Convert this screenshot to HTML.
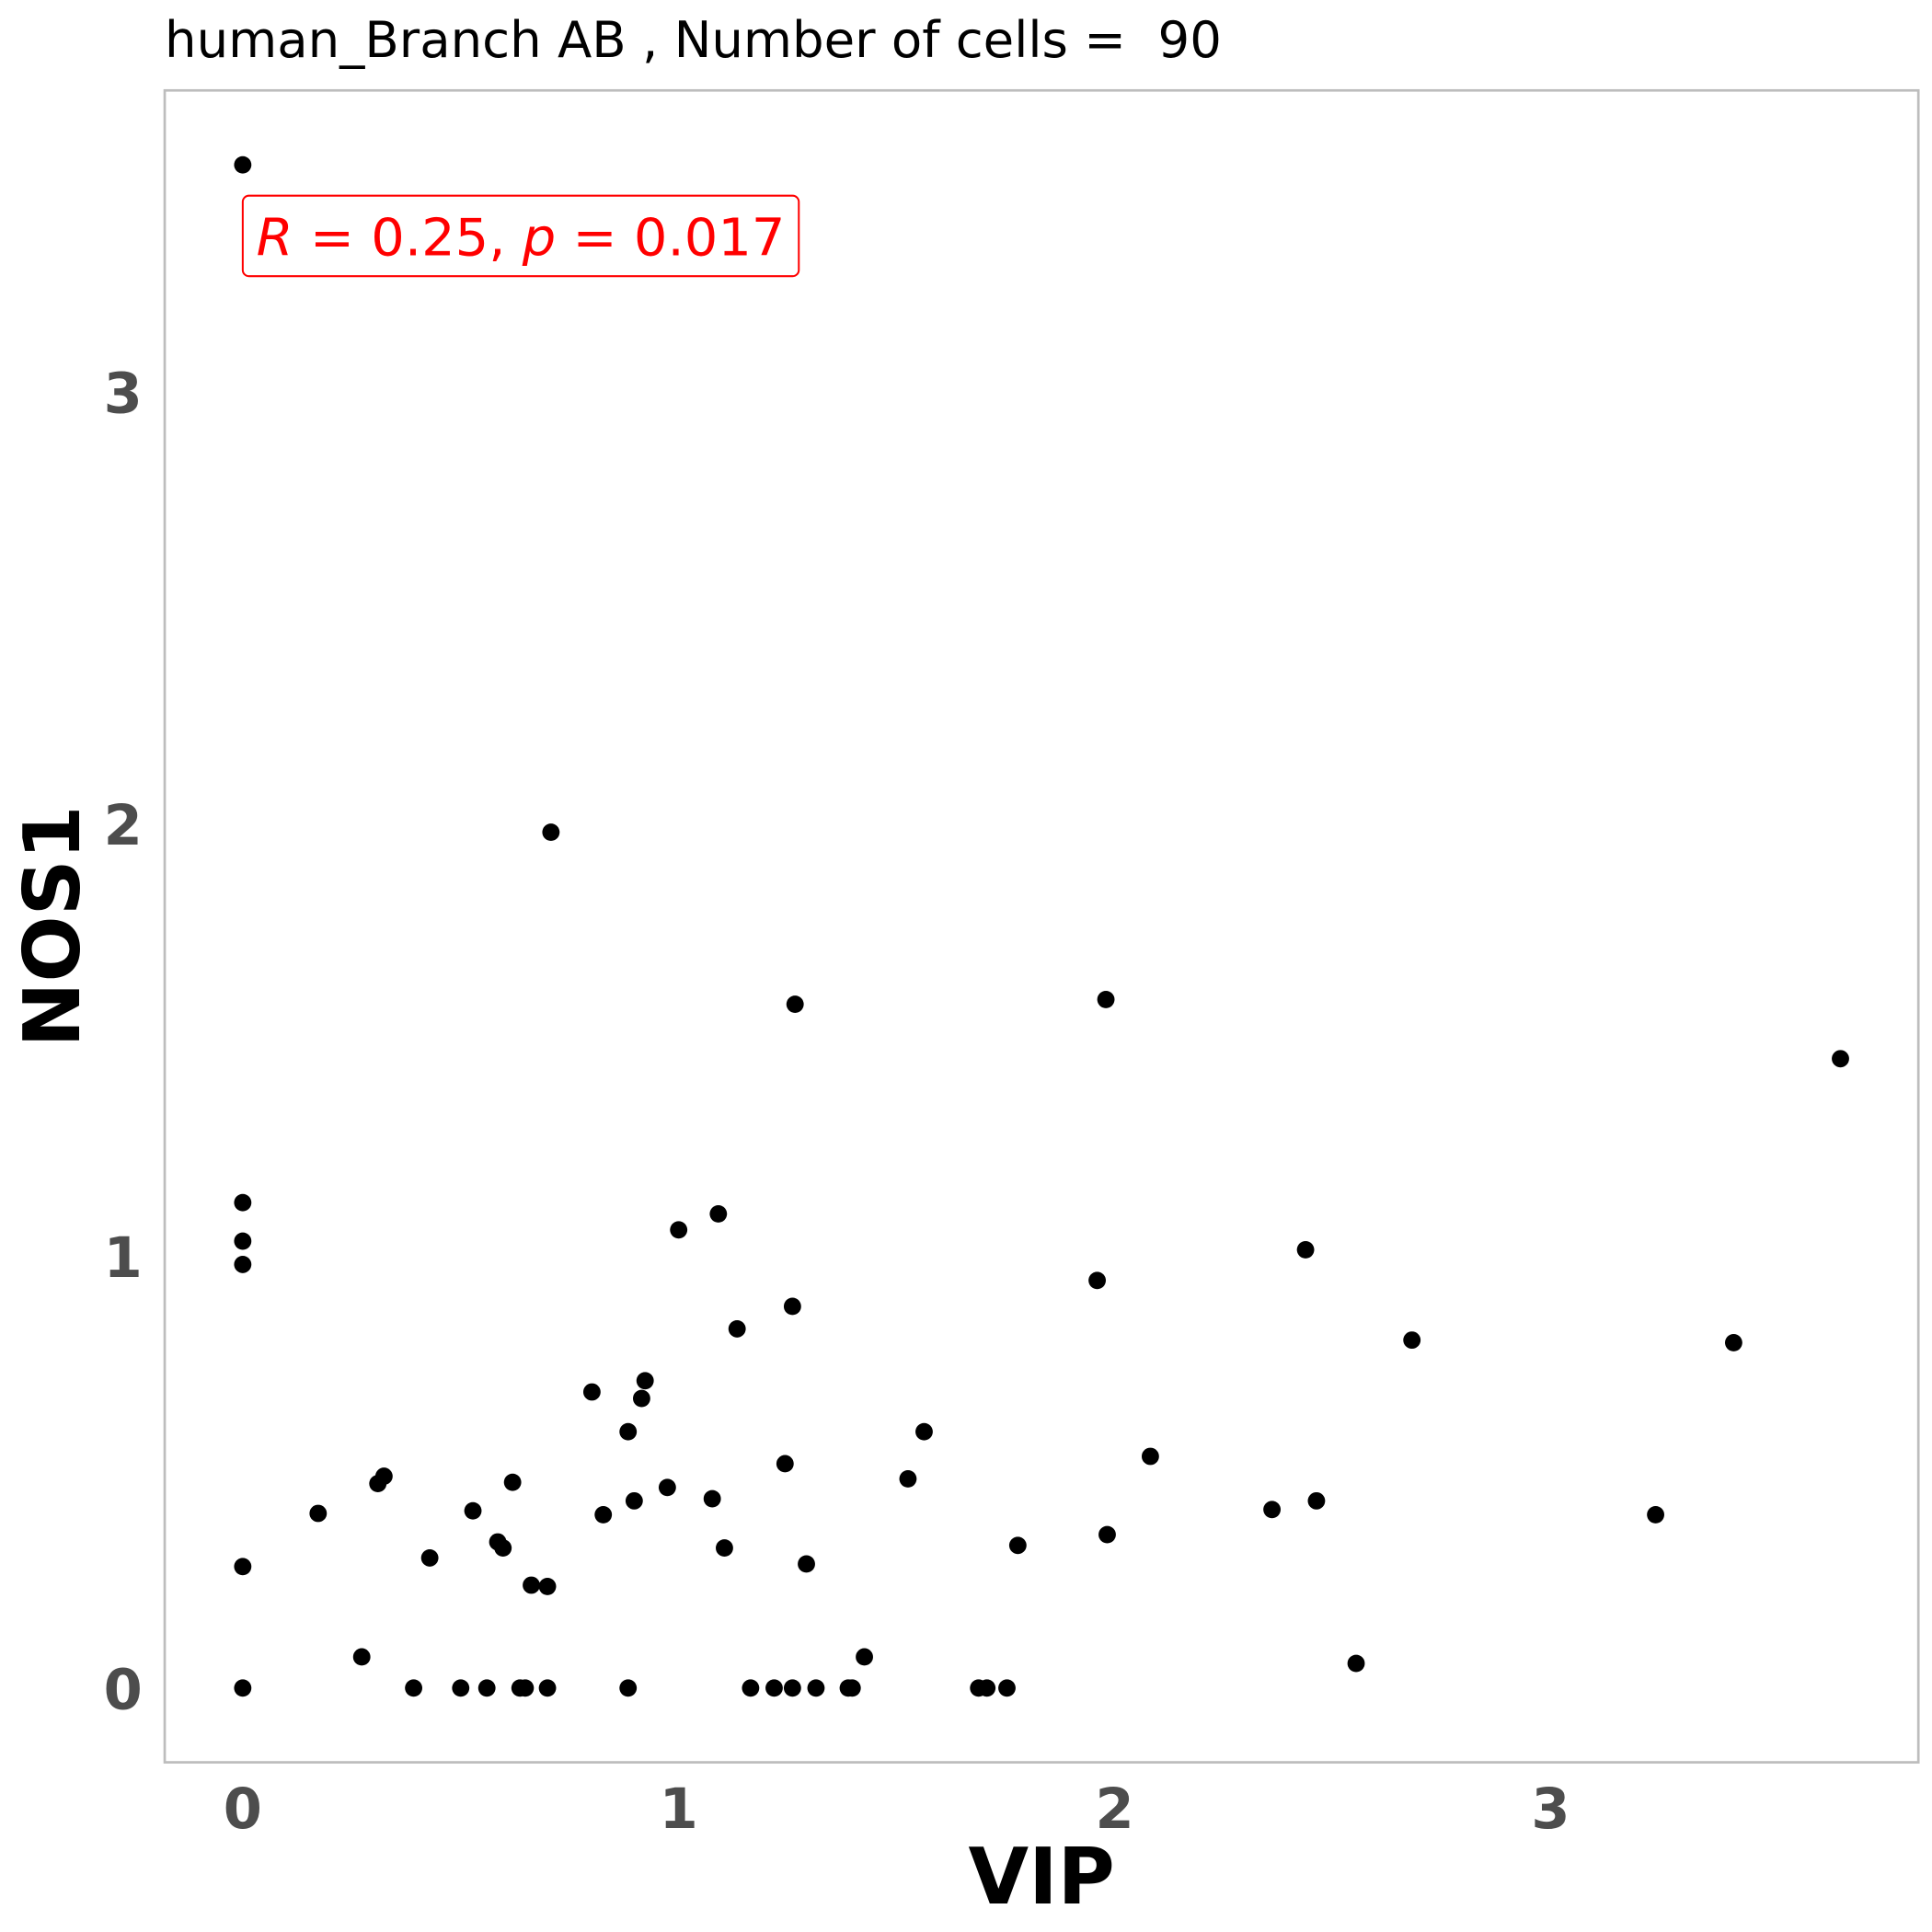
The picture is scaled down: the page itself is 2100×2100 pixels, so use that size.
<!DOCTYPE html>
<html><head><meta charset="utf-8"><style>
html,body{margin:0;padding:0;background:#fff;}
svg{display:block;font-family:"DejaVu Sans","Liberation Sans",sans-serif;}
</style></head><body>
<svg id="chart" width="2100" height="2100" viewBox="0 0 1560 1560" xmlns="http://www.w3.org/2000/svg">
<rect x="0" y="0" width="1560" height="1560" fill="#fff"/>
<text x="133" y="46" font-size="40.5" fill="#000" style="white-space:pre">human_Branch AB , Number of cells =  90</text>
<rect x="133" y="73" width="1416" height="1350" fill="none" stroke="#bdbdbd" stroke-width="2"/>
<g id="xticks"></g><g id="yticks"></g><g id="points"></g>
<g>
<rect x="196" y="158" width="449" height="65" rx="5" fill="#fff" stroke="#ff0000" stroke-width="1.5"/>
<text x="207" y="206" font-size="42" fill="#ff0000" textLength="427" lengthAdjust="spacingAndGlyphs"><tspan font-style="italic">R</tspan> = 0.25, <tspan font-style="italic">p</tspan> = 0.017</text>
</g>
<text x="841" y="1537" font-size="63" font-weight="bold" text-anchor="middle" fill="#000">VIP</text>
<text transform="translate(64,748) rotate(-90)" font-size="63" font-weight="bold" text-anchor="middle" fill="#000">NOS1</text>
</svg>
<script>
const xTicks=[0,1,2,3];
const yTicks=[0,1,2,3];
const vipValues=[0,0,0,0,0,0,0.707,1.267,1.980,3.665,1.091,1.0,2.438,1.960,1.261,1.134,2.682,3.420,0.801,0.923,0.915,0.884,1.563,2.082,1.244,0.324,0.310,0.619,1.526,0.974,1.077,0.898,2.463,2.361,0.528,0.173,0.827,3.241,1.983,1.778,0.585,0.597,1.105,0.429,1.293,0.662,0.699,0.273,1.426,2.554,0.392,0.5,0.560,0.636,0.648,0.699,0.884,1.165,1.219,1.261,1.315,1.389,1.398,1.688,1.707,1.753];
const nos1Values=[3.524,1.123,1.034,0.980,0.281,0,1.980,1.582,1.593,1.456,1.097,1.060,1.014,0.943,0.883,0.831,0.805,0.799,0.685,0.711,0.670,0.593,0.593,0.536,0.519,0.490,0.473,0.476,0.484,0.464,0.438,0.433,0.433,0.413,0.410,0.404,0.401,0.401,0.355,0.330,0.338,0.324,0.324,0.301,0.287,0.238,0.235,0.072,0.072,0.057,0,0,0,0,0,0,0,0,0,0,0,0,0,0,0,0];
const NS="http://www.w3.org/2000/svg";
function xs(v){return 196+v*352;}
function ys(v){return 1363-v*349;}
const gx=document.getElementById('xticks');
xTicks.forEach(t=>{const e=document.createElementNS(NS,'text');


e.setAttribute('x',xs(t));e.setAttribute('y',1476);e.setAttribute('font-size','45');e.setAttribute('font-weight','bold');e.setAttribute('fill','#4d4d4d');e.setAttribute('text-anchor','middle');e.textContent=t;gx.appendChild(e);});
const gy=document.getElementById('yticks');
yTicks.forEach(t=>{const e=document.createElementNS(NS,'text');


e.setAttribute('x',115);e.setAttribute('y',ys(t)+17);e.setAttribute('font-size','45');e.setAttribute('font-weight','bold');e.setAttribute('fill','#4d4d4d');e.setAttribute('text-anchor','end');e.textContent=t;gy.appendChild(e);});
const gp=document.getElementById('points');
vipValues.forEach((v,i)=>{const c=document.createElementNS(NS,'circle');


c.setAttribute('cx',xs(v));c.setAttribute('cy',ys(nos1Values[i]));c.setAttribute('r','7');c.setAttribute('fill','#000');gp.appendChild(c);});
</script>
</body></html>
